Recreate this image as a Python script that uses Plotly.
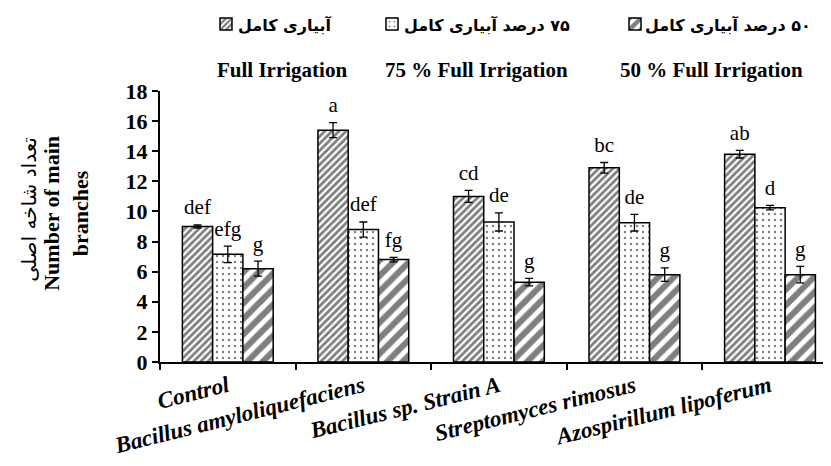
import plotly.graph_objects as go

# treatments on the x axis
categories = [
    "Control",
    "Bacillus amyloliquefaciens",
    "Bacillus sp. Strain A",
    "Streptomyces rimosus",
    "Azospirillum lipoferum",
]

# number of main branches per irrigation level (mean, error)
full_irr = [9.0, 15.4, 11.0, 12.9, 13.8]
full_irr_err = [0.1, 0.5, 0.4, 0.35, 0.25]
irr_75 = [7.15, 8.8, 9.3, 9.25, 10.25]
irr_75_err = [0.55, 0.5, 0.6, 0.55, 0.15]
irr_50 = [6.2, 6.8, 5.3, 5.8, 5.8]
irr_50_err = [0.5, 0.15, 0.25, 0.45, 0.55]

# Duncan letters
full_letters = ["def", "a", "cd", "bc", "ab"]
irr_75_letters = ["efg", "def", "de", "de", "d"]
irr_50_letters = ["g", "fg", "g", "g", "g"]

series_fa = ["آبیاری کامل", "۷۵ درصد آبیاری کامل", "۵۰ درصد آبیاری کامل"]
series_en = ["Full Irrigation", "75 % Full Irrigation", "50 % Full Irrigation"]

SERIF = "Liberation Serif, Times New Roman, serif"
FA_FONT = "DejaVu Sans, sans-serif"
RLM = "\u200f"
LETTER_PAD = 0.35  # gap between error cap and letter, in axis units

patterns = [
    dict(shape="/", size=5, solidity=0.55, fgcolor="black", bgcolor="white"),
    dict(shape=".", size=6, solidity=0.12, fgcolor="black", bgcolor="white"),
    dict(shape="/", size=11, solidity=0.55, fgcolor="black", bgcolor="white"),
]

series = [
    (full_irr, full_irr_err, full_letters),
    (irr_75, irr_75_err, irr_75_letters),
    (irr_50, irr_50_err, irr_50_letters),
]
legends = ["legend", "legend2", "legend3"]

fig = go.Figure()
for i, (vals, errs, letters) in enumerate(series):
    # legend shows only the swatch, labels are annotations (RTL layout)
    fig.add_trace(go.Bar(
        x=categories, y=vals, name="",
        offsetgroup=str(i), legend=legends[i],
        marker=dict(color="white", pattern=patterns[i],
                    line=dict(color="black", width=1.5)),
        error_y=dict(type="data", array=errs, color="black",
                     thickness=1.3, width=4),
    ))
    fig.add_trace(go.Scatter(
        x=categories, y=[v + e + LETTER_PAD for v, e in zip(vals, errs)],
        mode="text", text=letters, textposition="top center",
        textfont=dict(family=SERIF, size=21, color="black"),
        offsetgroup=str(i), showlegend=False, cliponaxis=False,
    ))

# page is shown with an 8px body margin; plot area on the page: x 160..831, y 91..362.5
def px_x(px):
    return (px - 160) / 671


def px_y(py):
    return (362.5 - py) / 271.5


legend_x = [206, 372, 615]
layout_legends = {}
for name, lx in zip(legends, legend_x):
    layout_legends[name] = dict(
        x=px_x(lx), y=px_y(24), orientation="h",
        yanchor="middle", xanchor="left", bgcolor="rgba(0,0,0,0)",
        font=dict(family=SERIF, size=12, color="black"),
    )

annotations = []
fa_x = [236, 402, 643]
for txt, fx in zip(series_fa, fa_x):
    annotations.append(dict(
        x=px_x(fx), y=px_y(25), xref="paper", yref="paper",
        text=RLM + txt + RLM, xanchor="left", yanchor="middle",
        showarrow=False, font=dict(family=FA_FONT, size=16, color="black",
                                   weight="bold"),
    ))

en_x = [282, 476, 711]
for txt, ex in zip(series_en, en_x):
    annotations.append(dict(
        x=px_x(ex), y=px_y(70), xref="paper", yref="paper", text=txt,
        xanchor="center", yanchor="middle", showarrow=False,
        font=dict(family=SERIF, size=21, color="black", weight="bold"),
    ))

annotations.append(dict(
    x=px_x(29), y=px_y(210), xref="paper", yref="paper",
    text="تعداد شاخه اصلی", textangle=-90, showarrow=False,
    xanchor="center", yanchor="middle",
    font=dict(family=FA_FONT, size=20, color="black"),
))
annotations.append(dict(
    x=px_x(66), y=px_y(214), xref="paper", yref="paper",
    text="Number of main<br>branches", textangle=-90, showarrow=False,
    xanchor="center", yanchor="middle",
    font=dict(family=SERIF, size=22, color="black", weight="bold"),
))

fig.update_layout(
    width=823, height=458,
    margin=dict(l=152, r=0, t=83, b=103.5, autoexpand=False),
    paper_bgcolor="white", plot_bgcolor="white",
    barmode="group", bargap=0.33, bargroupgap=0,
    scattermode="group", scattergap=0.33,
    annotations=annotations,
    showlegend=True,
    **layout_legends,
)
fig.update_xaxes(
    range=[-0.5, 4.45], tickson="boundaries", ticks="outside",
    ticklen=6, tickcolor="black", tickwidth=1.5,
    showline=True, linecolor="black", linewidth=2,
    tickangle=-14, showgrid=False,
    tickfont=dict(family=SERIF, size=23, color="black",
                  weight="bold", style="italic"),
)
fig.update_yaxes(
    range=[0, 18], dtick=2, ticks="outside", ticklen=6,
    tickcolor="black", tickwidth=1.5,
    showline=True, linecolor="black", linewidth=2,
    showgrid=False, zeroline=False,
    tickfont=dict(family=SERIF, size=22, color="black", weight="bold"),
)

fig.write_html("out.html")
